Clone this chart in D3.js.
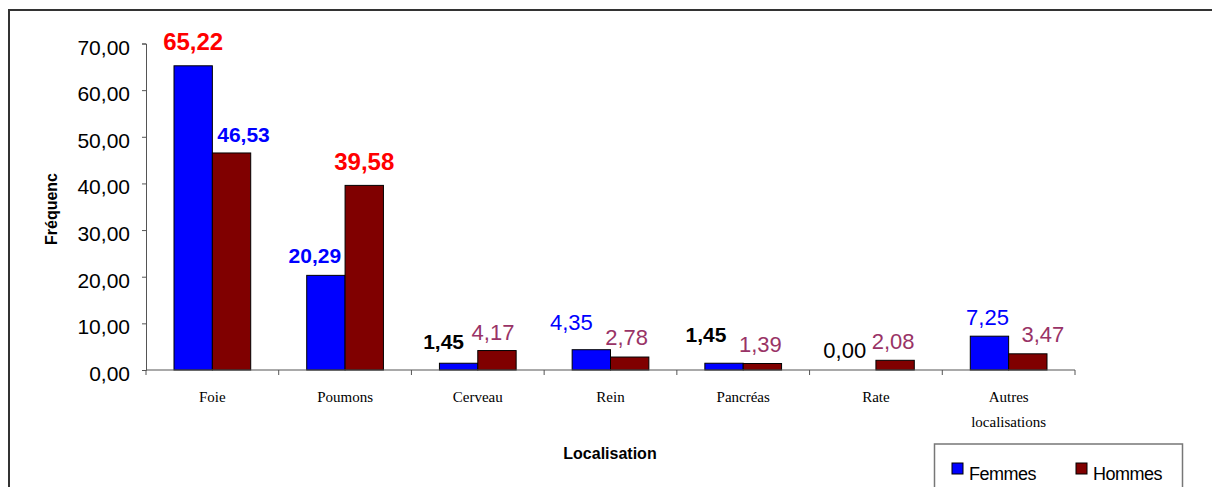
<!DOCTYPE html>
<html>
<head>
    <meta charset="utf-8">
    <script src="https://d3js.org/d3.v7.min.js"></script>
    <style>
        body { margin: 0; background: #fff; overflow: hidden; }
        svg text { font-family: Arial, "Liberation Sans", sans-serif; }
        .cat text { font-family: "Times New Roman", "Liberation Serif", serif; }
    </style>
</head>
<body>
    <div id="chart"></div>
    <script>
        var categories = ["Foie", "Poumons", "Cerveau", "Rein", "Pancréas", "Rate", "Autres localisations"];
        var series = ["Femmes", "Hommes"];
        var femmes = [65.22, 20.29, 1.45, 4.35, 1.45, 0.00, 7.25];
        var hommes = [46.53, 39.58, 4.17, 2.78, 1.39, 2.08, 3.47];
        var yTicks = [0, 10, 20, 30, 40, 50, 60, 70];

        // label look, per bar (as in the original sheet, labels were hand-placed)
        var labelStyle = {
            Femmes: [["#ff0000", 700, 24], ["#0000ff", 700, 21], ["#000", 700, 21], ["#0000ff", 400, 22],
                     ["#000", 700, 21], ["#000", 400, 22], ["#0000ff", 400, 22]],
            Hommes: [["#0000ff", 700, 21], ["#ff0000", 700, 24], ["#993366", 400, 22], ["#993366", 400, 22],
                     ["#993366", 400, 22], ["#993366", 400, 22], ["#993366", 400, 22]]
        };
        var labelDx = { Femmes: [0, -11, -15, -20, -18, -12, -2], Hommes: [12, 0, -4, -3, -2, -2, 15] };
        var labelGap = { Femmes: [16, 12, 14, 20, 21, 12, 11], Hommes: [11, 15, 11, 12, 12, 11, 12] };

        var colors = { Femmes: "#0000ff", Hommes: "#800000" };
        var values = { Femmes: femmes, Hommes: hommes };

        var width = 1212, height = 487;
        var svg = d3.select("#chart").append("svg").attr("width", width).attr("height", height);

        var fmt = d3.formatLocale({ decimal: ",", thousands: " ", grouping: [3], currency: ["", "€"] }).format(".2f");

        // outer frame (runs off the right and bottom)
        svg.append("rect")
            .attr("x", 9).attr("y", 10).attr("width", 1300).attr("height", 600)
            .attr("fill", "none").attr("stroke", "#333").attr("stroke-width", 2);

        var x = d3.scaleBand().domain(categories).range([146, 1075]).paddingInner(0.422).paddingOuter(0.211);
        var xs = d3.scaleBand().domain(series).range([0, x.bandwidth()]);
        var y = d3.scaleLinear().domain([0, 70]).range([370, 43.5]);

        // y axis
        var yAxis = svg.append("g").attr("transform", "translate(146,0)")
            .call(d3.axisLeft(y).tickValues(yTicks).tickSize(4).tickPadding(12).tickFormat(fmt));
        yAxis.selectAll("path, line").attr("stroke", "#555");
        yAxis.selectAll("text").attr("font-size", 21).attr("fill", "#000").attr("dy", "0.5em")
            .style("font-family", "Arial, 'Liberation Sans', sans-serif");

        // bars
        series.forEach(function (s) {
            svg.append("g").selectAll("rect")
                .data(values[s])
                .join("rect")
                .attr("x", (d, i) => x(categories[i]) + xs(s))
                .attr("y", d => y(d))
                .attr("width", xs.bandwidth())
                .attr("height", d => y(0) - y(d))
                .attr("fill", colors[s])
                .attr("stroke", "#000")
                .attr("stroke-width", 1);
        });

        // x axis line + ticks at category boundaries
        var xAxis = svg.append("g").attr("class", "cat").attr("transform", "translate(0,370)")
            .call(d3.axisBottom(x).tickSize(0).tickPadding(0).tickFormat(""));
        xAxis.select(".domain").attr("stroke", "#555").attr("d", "M146,0H1075");
        var bounds = categories.map(c => x(c) - x.step() * x.paddingInner() / 2);
        bounds.push(1075);
        xAxis.selectAll(".bound").data(bounds).join("line").attr("class", "bound")
            .attr("x1", d => d).attr("x2", d => d).attr("y1", 0).attr("y2", 5).attr("stroke", "#555");
        xAxis.selectAll(".tick").each(function (c) {
            var t = d3.select(this).select("text").text(null)
                .attr("font-size", 15).attr("fill", "#000").attr("y", 0).attr("dy", null);
            var lines = c.length > 12 ? c.split(" ") : [c];
            lines.forEach((l, i) => t.append("tspan").attr("x", 0).attr("y", 32 + i * 25).text(l));
        });

        // value labels
        series.forEach(function (s) {
            svg.append("g").selectAll("text")
                .data(values[s])
                .join("text")
                .attr("x", (d, i) => x(categories[i]) + xs(s) + xs.bandwidth() / 2 + labelDx[s][i])
                .attr("y", (d, i) => y(d) - labelGap[s][i])
                .attr("text-anchor", "middle")
                .attr("fill", (d, i) => labelStyle[s][i][0])
                .attr("font-weight", (d, i) => labelStyle[s][i][1])
                .attr("font-size", (d, i) => labelStyle[s][i][2])
                .text(d => fmt(d));
        });

        // axis titles
        svg.append("text")
            .attr("transform", "translate(57,209) rotate(-90)")
            .attr("text-anchor", "middle").attr("font-weight", 700).attr("font-size", 16)
            .text("Fréquenc");
        svg.append("text")
            .attr("x", 610).attr("y", 459)
            .attr("text-anchor", "middle").attr("font-weight", 700).attr("font-size", 16)
            .text("Localisation");

        // legend
        var legend = svg.append("g");
        legend.append("rect")
            .attr("x", 934.5).attr("y", 444).attr("width", 248).attr("height", 80)
            .attr("fill", "#fff").attr("stroke", "#777").attr("stroke-width", 1.5);
        var legX = [952, 1076];
        series.forEach(function (s, i) {
            legend.append("rect")
                .attr("x", legX[i]).attr("y", 463).attr("width", 11).attr("height", 11)
                .attr("fill", colors[s]).attr("stroke", "#000");
            legend.append("text")
                .attr("x", legX[i] + 17).attr("y", 480)
                .attr("font-size", 18).attr("letter-spacing", -0.5)
                .text(s);
        });
    </script>
</body>
</html>
